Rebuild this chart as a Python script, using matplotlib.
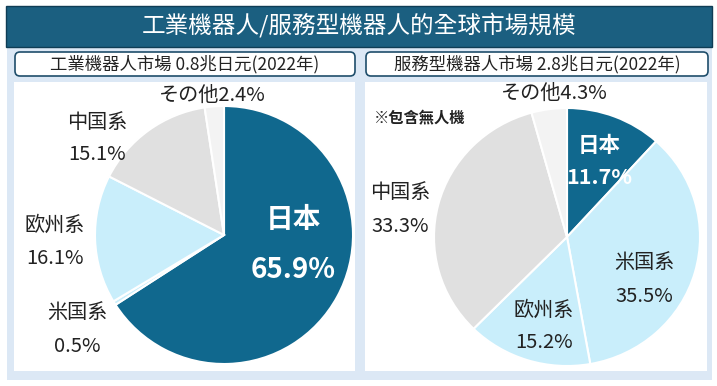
import matplotlib.pyplot as plt
from matplotlib.patches import Rectangle, FancyBboxPatch

plt.rcParams['font.family'] = ['Noto Sans CJK TC', 'DejaVu Sans']

# datos
regiones = ['日本', '米国系', '欧州系', '中国系', 'その他']
industrial = [65.9, 0.5, 16.1, 15.1, 2.4]
servicio = [11.7, 35.5, 15.2, 33.3, 4.3]
colores = ['#10688e', '#c9eefb', '#c9eefb', '#e0e0e0', '#f3f3f3']

titulo = '工業機器人/服務型機器人的全球市場規模'
sub_izq = '工業機器人市場 0.8兆日元(2022年)'
sub_der = '服務型機器人市場 2.8兆日元(2022年)'
nota = '※包含無人機'

W, H = 717, 386
fig = plt.figure(figsize=(W / 100, H / 100), dpi=100)


def capa():
    ax = fig.add_axes([0, 0, 1, 1])
    ax.set_xlim(0, W)
    ax.set_ylim(H, 0)
    ax.axis('off')
    ax.patch.set_alpha(0)
    return ax


# capa de fondo en pixeles
bg = capa()
bg.add_patch(Rectangle((7, 47), 705, 333, facecolor='#dce8f5', edgecolor='none'))
bg.add_patch(Rectangle((14, 82), 341, 289, facecolor='white', edgecolor='none'))
bg.add_patch(Rectangle((365, 82), 342, 289, facecolor='white', edgecolor='none'))
bg.add_patch(Rectangle((6, 6), 706, 41, facecolor='#1b5f80', edgecolor='#0f3d55', lw=1))
bg.text(359, 26, titulo, color='white', fontsize=17, ha='center', va='center')

for x0, x1, txt in [(15, 355, sub_izq), (366, 708, sub_der)]:
    bg.add_patch(FancyBboxPatch((x0, 52), x1 - x0, 24, boxstyle='round,pad=0,rounding_size=5',
                                facecolor='white', edgecolor='#1f4e6b', lw=1.2))
    bg.text((x0 + x1) / 2, 64.5, txt, fontsize=12.5, ha='center', va='center', color='#222222')


def pastel(cx, cy, rx, ry, valores):
    ax = fig.add_axes([(cx - rx) / W, 1 - (cy + ry) / H, 2 * rx / W, 2 * ry / H])
    ax.pie(valores, colors=colores, startangle=90, counterclock=False, radius=1,
           wedgeprops=dict(edgecolor='white', linewidth=1.5))
    ax.set_aspect('auto')
    ax.set_xlim(-1, 1)
    ax.set_ylim(-1, 1)
    ax.axis('off')


pastel(224, 235, 129, 129, industrial)
pastel(567, 237, 133, 129, servicio)

# capa de textos encima de los pasteles
tx = capa()
fs = 14.5


def etiqueta(x, y, nombre, valor, blanco=False, size=fs, salto=33):
    kw = dict(color='white', fontweight='bold') if blanco else dict(color='#222222')
    tx.text(x, y, nombre, fontsize=size, ha='center', va='center', **kw)
    tx.text(x, y + salto, f'{valor}%', fontsize=size, ha='center', va='center', **kw)


# izquierda
etiqueta(293, 220, regiones[0], industrial[0], blanco=True, size=20, salto=50)
etiqueta(77, 313, regiones[1], industrial[1])
etiqueta(55, 225, regiones[2], industrial[2])
etiqueta(97, 122, regiones[3], industrial[3])
tx.text(212, 95, f'{regiones[4]}{industrial[4]}%', fontsize=fs, ha='center', va='center', color='#222222')

# derecha
etiqueta(599, 145, regiones[0], servicio[0], blanco=True, size=15.5, salto=33)
etiqueta(644, 263, regiones[1], servicio[1])
etiqueta(544, 310, regiones[2], servicio[2])
etiqueta(400, 193, regiones[3], servicio[3])
tx.text(554, 93, f'{regiones[4]}{servicio[4]}%', fontsize=fs, ha='center', va='center', color='#222222')
tx.text(374, 118, nota, fontsize=11, fontweight='bold', ha='left', va='center', color='#222222')

fig.savefig('out.png', dpi=100)
